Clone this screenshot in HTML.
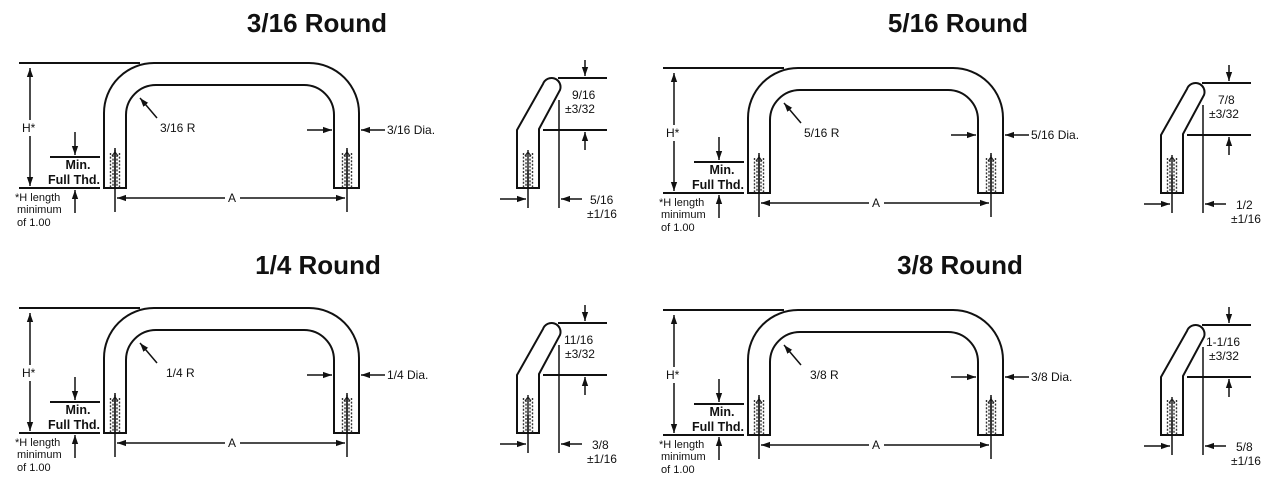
<!DOCTYPE html>
<html><head><meta charset="utf-8"><style>
html,body{margin:0;padding:0;background:#fff;}
svg{display:block;}
text{font-family:"Liberation Sans",sans-serif;fill:#111;}
.t{font-size:26px;font-weight:bold;}
.l{font-size:12px;}
.b{font-size:12.5px;font-weight:bold;}
.s{font-size:11px;}
</style></head><body>
<svg width="1280" height="478" viewBox="0 0 1280 478" xmlns="http://www.w3.org/2000/svg">
<defs>
<marker id="ar" viewBox="0 0 10 10" refX="10" refY="5" markerWidth="6" markerHeight="6" orient="auto-start-reverse"><path d="M0,1.5 L10,5 L0,8.5 z" fill="#111"/></marker>
<g id="thr">
 <path d="M2.5,3 v35 M11.5,3 v35 M5,5 v33 M9,5 v33" stroke="#333" stroke-width="1.4" stroke-dasharray="2,1.6" fill="none"/>
 <line x1="7" y1="0" x2="7" y2="38" stroke="#111" stroke-width="1.4"/>
 <path d="M4,6 l3,-4 l3,4" stroke="#222" stroke-width="1.2" fill="none"/>
</g>
<g id="panel" fill="none" stroke="#111" stroke-width="2">
 <path d="M104,188 V113 A50,50 0 0 1 154,63 H309 A50,50 0 0 1 359,113 V188 H334 V115 A30,30 0 0 0 304,85 H156 A30,30 0 0 0 126,115 V188 Z"/>
 <use href="#thr" x="108" y="150"/>
 <use href="#thr" x="340" y="150"/>
 <line x1="19" y1="63" x2="140" y2="63"/>
 <line x1="19" y1="188" x2="100" y2="188"/>
 <line x1="50" y1="157" x2="100" y2="157"/>
 <g stroke-width="1.5">
 <line x1="30" y1="68" x2="30" y2="120" marker-start="url(#ar)"/>
 <line x1="30" y1="136" x2="30" y2="186" marker-end="url(#ar)"/>
 <line x1="75" y1="132" x2="75" y2="155" marker-end="url(#ar)"/>
 <line x1="75" y1="213" x2="75" y2="190" marker-end="url(#ar)"/>
 <line x1="115" y1="148" x2="115" y2="212"/>
 <line x1="347" y1="148" x2="347" y2="212"/>
 <line x1="117" y1="198" x2="225" y2="198" marker-start="url(#ar)"/>
 <line x1="240" y1="198" x2="345" y2="198" marker-end="url(#ar)"/>
 <line x1="157" y1="118" x2="140" y2="98" marker-end="url(#ar)"/>
 <line x1="307" y1="130" x2="332" y2="130" marker-end="url(#ar)"/>
 <line x1="385" y1="130" x2="361" y2="130" marker-end="url(#ar)"/>
 </g>
 <path d="M517,188 V130 L543,84 A9,9 0 0 1 560,90 L539,129 V188 Z"/>
 <use href="#thr" x="521" y="150"/>
 <line x1="558" y1="78" x2="607" y2="78"/>
 <line x1="543" y1="130" x2="607" y2="130"/>
 <g stroke-width="1.5">
 <line x1="585" y1="60" x2="585" y2="76" marker-end="url(#ar)"/>
 <line x1="585" y1="150" x2="585" y2="132" marker-end="url(#ar)"/>
 <line x1="559" y1="100" x2="559" y2="208"/>
 <line x1="528" y1="170" x2="528" y2="208"/>
 <line x1="500" y1="199" x2="526" y2="199" marker-end="url(#ar)"/>
 <line x1="582" y1="199" x2="561" y2="199" marker-end="url(#ar)"/>
 </g>
</g>
</defs>

<use href="#panel"/>
<text class="t" x="317" y="32" text-anchor="middle">3/16 Round</text>
<text class="l" x="22" y="132">H*</text>
<text class="b" x="78" y="169" text-anchor="middle">Min.</text>
<text class="b" x="74" y="184" text-anchor="middle">Full Thd.</text>
<text class="s" x="15" y="201">*H length</text>
<text class="s" x="17" y="213">minimum</text>
<text class="s" x="17" y="226">of 1.00</text>
<text class="l" x="232" y="202" text-anchor="middle">A</text>
<text class="l" x="160" y="132">3/16 R</text>
<text class="l" x="387" y="134">3/16 Dia.</text>
<text class="l" x="572" y="99">9/16</text>
<text class="l" x="565" y="113">±3/32</text>
<text class="l" x="590" y="204">5/16</text>
<text class="l" x="587" y="218">±1/16</text>

<g transform="translate(644,5)">
<use href="#panel"/>
<text class="l" x="22" y="132">H*</text>
<text class="b" x="78" y="169" text-anchor="middle">Min.</text>
<text class="b" x="74" y="184" text-anchor="middle">Full Thd.</text>
<text class="s" x="15" y="201">*H length</text>
<text class="s" x="17" y="213">minimum</text>
<text class="s" x="17" y="226">of 1.00</text>
<text class="l" x="232" y="202" text-anchor="middle">A</text>
<text class="l" x="160" y="132">5/16 R</text>
<text class="l" x="387" y="134">5/16 Dia.</text>
<text class="l" x="574" y="99">7/8</text>
<text class="l" x="565" y="113">±3/32</text>
<text class="l" x="592" y="204">1/2</text>
<text class="l" x="587" y="218">±1/16</text>
</g>
<text class="t" x="958" y="32" text-anchor="middle">5/16 Round</text>

<g transform="translate(0,245)">
<use href="#panel"/>
<text class="l" x="22" y="132">H*</text>
<text class="b" x="78" y="169" text-anchor="middle">Min.</text>
<text class="b" x="74" y="184" text-anchor="middle">Full Thd.</text>
<text class="s" x="15" y="201">*H length</text>
<text class="s" x="17" y="213">minimum</text>
<text class="s" x="17" y="226">of 1.00</text>
<text class="l" x="232" y="202" text-anchor="middle">A</text>
<text class="l" x="166" y="132">1/4 R</text>
<text class="l" x="387" y="134">1/4 Dia.</text>
<text class="l" x="564" y="99">11/16</text>
<text class="l" x="565" y="113">±3/32</text>
<text class="l" x="592" y="204">3/8</text>
<text class="l" x="587" y="218">±1/16</text>
</g>
<text class="t" x="318" y="274" text-anchor="middle">1/4 Round</text>

<g transform="translate(644,247)">
<use href="#panel"/>
<text class="l" x="22" y="132">H*</text>
<text class="b" x="78" y="169" text-anchor="middle">Min.</text>
<text class="b" x="74" y="184" text-anchor="middle">Full Thd.</text>
<text class="s" x="15" y="201">*H length</text>
<text class="s" x="17" y="213">minimum</text>
<text class="s" x="17" y="226">of 1.00</text>
<text class="l" x="232" y="202" text-anchor="middle">A</text>
<text class="l" x="166" y="132">3/8 R</text>
<text class="l" x="387" y="134">3/8 Dia.</text>
<text class="l" x="562" y="99">1-1/16</text>
<text class="l" x="565" y="113">±3/32</text>
<text class="l" x="592" y="204">5/8</text>
<text class="l" x="587" y="218">±1/16</text>
</g>
<text class="t" x="960" y="274" text-anchor="middle">3/8 Round</text>
</svg>
</body></html>
